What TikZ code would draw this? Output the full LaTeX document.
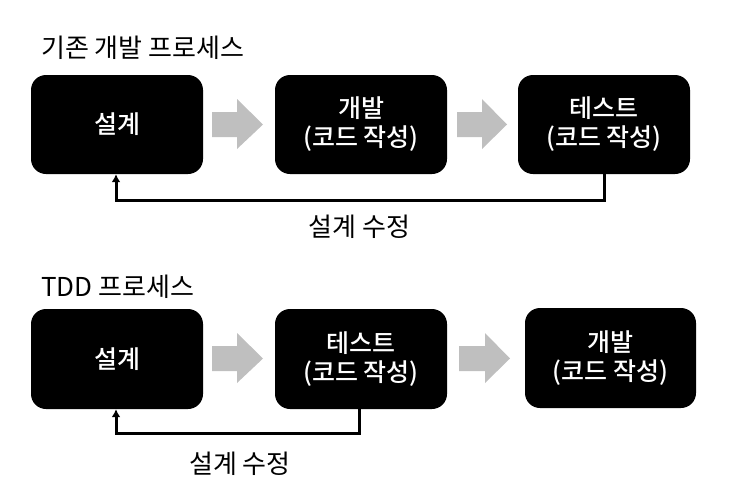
\documentclass[tikz,border=0pt]{standalone}
\usepackage{fontspec}
\setmainfont{Noto Sans CJK KR}[UprightFont=* Medium]
\newfontfamily\lightkr{Noto Sans CJK KR}
\usetikzlibrary{arrows.meta}
\begin{document}
\begin{tikzpicture}[x=1pt,y=-1pt,
  procbox/.style={fill=black,rounded corners=15pt,text=white,align=center,
    font=\fontsize{25}{29}\selectfont},
  title/.style={anchor=west,font=\lightkr\fontsize{26}{30}\selectfont,inner sep=0pt},
  lbl/.style={font=\lightkr\fontsize{26}{30}\selectfont,inner sep=0pt},
  fb/.style={line width=3pt,-{Latex[length=8pt,width=9pt]}},
  garrow/.style={fill=black!25,draw=none}]
\useasboundingbox (0,0) rectangle (750,491);
% --- top: existing process
\node[title] (t1) at (41,48) {기존 개발 프로세스};
\path[procbox] (31,75) rectangle (203,174);
\path[procbox] (275,75) rectangle (447,174);
\path[procbox] (518,75) rectangle (690,174);
\node[procbox,fill=none,minimum width=172pt,minimum height=99pt] (a1) at (117,124.5) {설계};
\node[procbox,fill=none,minimum width=172pt,minimum height=99pt] (a2) at (361,124.5) {개발\\(코드 작성)};
\node[procbox,fill=none,minimum width=172pt,minimum height=99pt] (a3) at (604,124.5) {테스트\\(코드 작성)};
\fill[garrow] (212,112) -- (237,112) -- (237,99) -- (263,124.5) -- (237,149) -- (237,137) -- (212,137) -- cycle;
\fill[garrow] (457,112) -- (482,112) -- (482,99) -- (507,124.5) -- (482,149) -- (482,137) -- (457,137) -- cycle;
\coordinate (c1) at (604,200);
\coordinate (c2) at (116,200);
\draw[fb] (a3.south) -- (c1) -- (c2) -- (c2 |- a1.south);
\node[lbl] (l1) at (359.5,227) {설계 수정};
% --- bottom: TDD
\node[title] (t2) at (41,287) {TDD 프로세스};
\path[procbox] (31,309) rectangle (203,409);
\path[procbox] (275,309) rectangle (447,409);
\path[procbox] (525,308) rectangle (696,408);
\node[procbox,fill=none,minimum width=172pt,minimum height=100pt] (b1) at (117,359) {설계};
\node[procbox,fill=none,minimum width=172pt,minimum height=100pt] (b2) at (361,359) {테스트\\(코드 작성)};
\node[procbox,fill=none,minimum width=171pt,minimum height=100pt] (b3) at (610.5,358) {개발\\(코드 작성)};
\fill[garrow] (212,346) -- (237,346) -- (237,333) -- (263,358.5) -- (237,383) -- (237,371) -- (212,371) -- cycle;
\fill[garrow] (459,346) -- (485,346) -- (485,333) -- (510,358.5) -- (485,383) -- (485,371) -- (459,371) -- cycle;
\coordinate (d1) at (359,433);
\coordinate (d2) at (116,433);
\draw[fb] (b2.south -| d1) -- (d1) -- (d2) -- (d2 |- b1.south);
\node[lbl] (l2) at (240,464) {설계 수정};
\end{tikzpicture}
\end{document}
